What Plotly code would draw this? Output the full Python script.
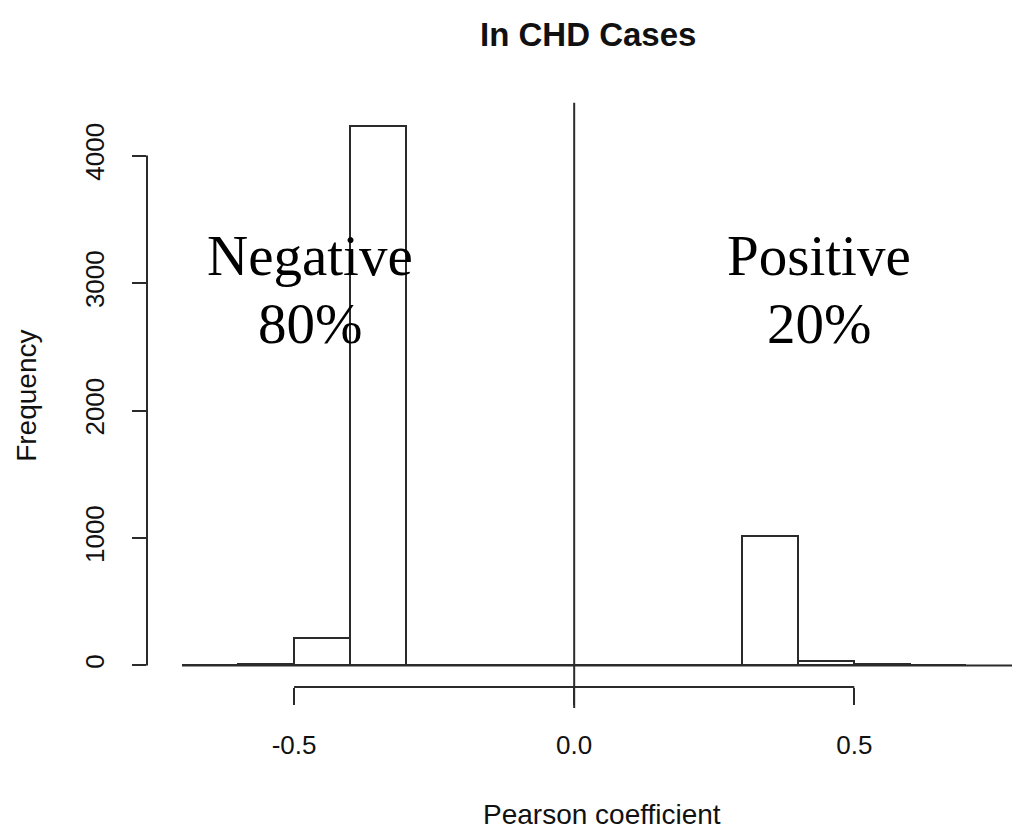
import plotly.graph_objects as go

# Histogram bins (Pearson coefficient) and frequencies
bin_left = [-0.7, -0.6, -0.5, -0.4, -0.3, -0.2, -0.1, 0.0, 0.1, 0.2, 0.3, 0.4, 0.5, 0.6]
bin_width = 0.1
counts = [5, 8, 212, 4236, 0, 0, 0, 0, 0, 0, 1014, 35, 8, 4]

x_ticks = [-0.5, 0.0, 0.5]
x_tick_text = ["-0.5", "0.0", "0.5"]
y_ticks = [0, 1000, 2000, 3000, 4000]
y_tick_text = ["0", "1000", "2000", "3000", "4000"]

title = "In CHD Cases"
x_label = "Pearson coefficient"
y_label = "Frequency"

LINE = "#2b2b2b"
SANS = "Liberation Sans, Arial, sans-serif"
SERIF = "Liberation Serif, Times New Roman, serif"

centers = [b + bin_width / 2 for b in bin_left]

fig = go.Figure()
fig.add_trace(go.Bar(
    x=centers, y=counts, width=[bin_width] * len(counts),
    marker=dict(color="white", line=dict(color=LINE, width=2)),
    hoverinfo="skip", showlegend=False,
))

xr = [-0.7625, 0.81]
yr = [-169, 4405]

fig.update_layout(
    width=1020, height=831,
    margin=dict(l=139, r=0, t=96, b=152),
    paper_bgcolor="white", plot_bgcolor="white",
    bargap=0,
    xaxis=dict(range=xr, showgrid=False, zeroline=False, showline=False,
               tickmode="array", tickvals=x_ticks, ticktext=x_tick_text,
               ticks="outside", ticklen=17, tickwidth=2, tickcolor=LINE,
               tickfont=dict(family=SANS, size=26, color="#111"),
               ticklabelstandoff=18),
    yaxis=dict(range=yr, showgrid=False, zeroline=False, showline=False,
               tickmode="array", tickvals=y_ticks, ticktext=y_tick_text,
               ticks="outside", ticklen=14, tickwidth=2, tickcolor=LINE,
               tickangle=-90,
               tickfont=dict(family=SANS, size=26, color="#111"),
               ticklabelstandoff=18),
    shapes=[
        # baseline at zero
        dict(type="line", xref="x", yref="y", x0=-0.7, x1=0.85, y0=0, y1=0,
             line=dict(color=LINE, width=2), layer="below"),
        # vertical line at 0
        dict(type="line", xref="x", yref="paper", x0=0, x1=0, y0=-0.036, y1=1.002,
             line=dict(color=LINE, width=2), layer="above"),
        # x axis line
        dict(type="line", xref="x", yref="paper", x0=x_ticks[0], x1=x_ticks[-1], y0=0, y1=0,
             line=dict(color=LINE, width=2)),
        # y axis line
        dict(type="line", xref="paper", yref="y", x0=0, x1=0, y0=y_ticks[0], y1=y_ticks[-1],
             line=dict(color=LINE, width=2)),
    ],
    annotations=[
        dict(text=f"<b>{title}</b>", xref="paper", yref="paper", x=0.5, y=1.12,
             xanchor="center", yanchor="middle", showarrow=False,
             font=dict(family=SANS, size=33, color="#111")),
        dict(text=x_label, xref="x", yref="paper", x=0.05, y=-0.218,
             xanchor="center", yanchor="middle", showarrow=False,
             font=dict(family=SANS, size=28, color="#111")),
        dict(text=y_label, xref="paper", yref="paper", x=-0.137, y=0.5,
             xanchor="center", yanchor="middle", showarrow=False, textangle=-90,
             font=dict(family=SANS, size=28, color="#111")),
        dict(text="Negative", xref="x", yref="y", x=-0.472, y=3214,
             xanchor="center", yanchor="middle", showarrow=False,
             font=dict(family=SERIF, size=57, color="#000")),
        dict(text="80%", xref="x", yref="y", x=-0.472, y=2680,
             xanchor="center", yanchor="middle", showarrow=False,
             font=dict(family=SERIF, size=57, color="#000")),
        dict(text="Positive", xref="x", yref="y", x=0.4365, y=3214,
             xanchor="center", yanchor="middle", showarrow=False,
             font=dict(family=SERIF, size=57, color="#000")),
        dict(text="20%", xref="x", yref="y", x=0.4365, y=2680,
             xanchor="center", yanchor="middle", showarrow=False,
             font=dict(family=SERIF, size=57, color="#000")),
    ],
)

fig.write_html("out.html")
